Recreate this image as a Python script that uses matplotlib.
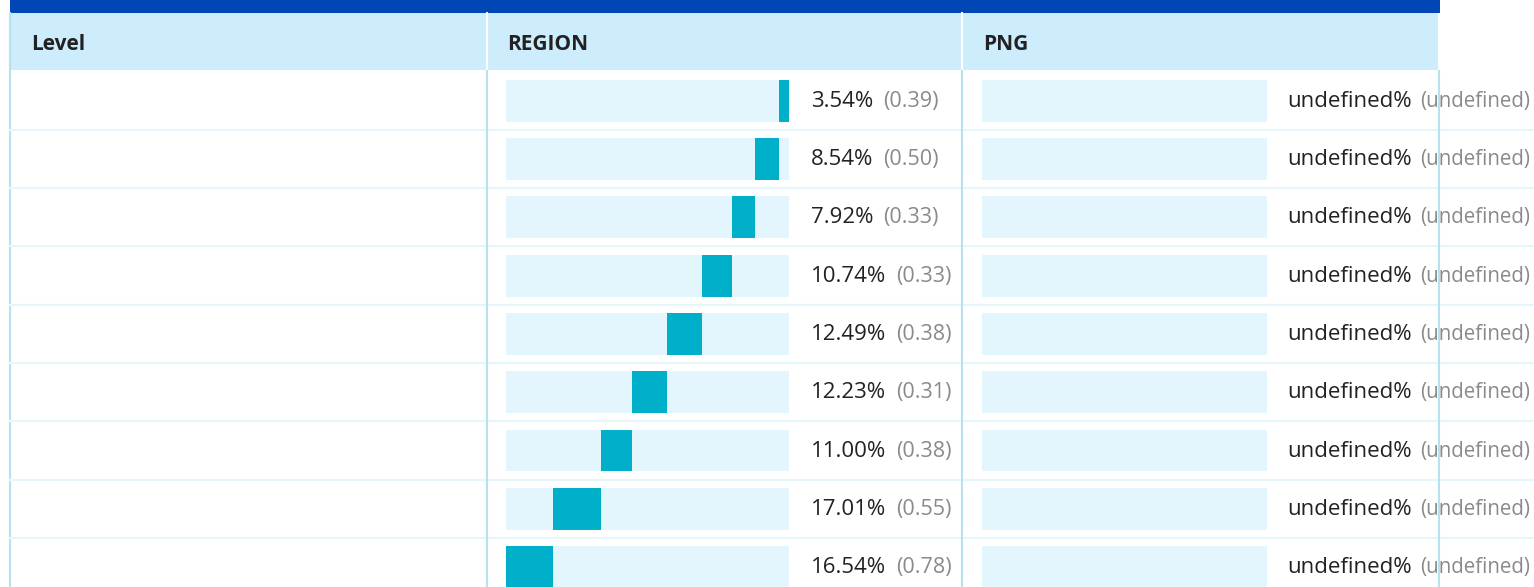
import matplotlib
matplotlib.use("Agg")
import matplotlib.pyplot as plt
import numpy as np

# ── DATA ──────────────────────────────────────────────────────────────────────
columns = ["Level", "REGION", "PNG"]
levels = ["", "", "", "", "", "", "", "", ""]
region_pct = [3.54, 8.54, 7.92, 10.74, 12.49, 12.23, 11.00, 17.01, 16.54]
region_se = [0.39, 0.50, 0.33, 0.33, 0.38, 0.31, 0.38, 0.55, 0.78]
png_pct = ["undefined"] * 9
png_se = ["undefined"] * 9

# ── STYLE ─────────────────────────────────────────────────────────────────────
plt.rcParams["font.family"] = ["Open Sans", "DejaVu Sans"]
TOP_BLUE = "#0047b5"
HEADER_BG = "#cdecfc"
BAR_BG = "#e3f5fd"
BAR_FG = "#00b0ca"
VLINE = "#b5e2ec"
HLINE = "#e6f6fb"
DARK = "#222222"
GREY = "#8a8a8a"

W, H = 1534, 587
HEAD_TOP, HEAD_BOT = 13, 70
ROW_H = 58.3
ROW0 = 100.7          # pixel centre of first row
col_x = [10, 486.5, 962, 1439]

fig = plt.figure(figsize=(W / 100, H / 100), dpi=100)

# header strip (pixel coords)
hax = fig.add_axes([0, 0, 1, 1])
hax.set_xlim(0, W)
hax.set_ylim(H, 0)
hax.axis("off")
hax.fill_between([10, 1440], 0, HEAD_TOP, color=TOP_BLUE, lw=0)
hax.fill_between([10, 1438], HEAD_TOP, HEAD_BOT, color=HEADER_BG, lw=0)
for x in col_x[1:3]:
    hax.plot([x, x], [HEAD_TOP, HEAD_BOT], color="white", lw=1.5)
hax.plot([col_x[0], col_x[0]], [HEAD_TOP, H], color=VLINE, lw=1.5)
for x, name in zip(col_x[:3], columns):
    hax.text(x + 21, 50.5, name, fontsize=15, fontweight="bold", color=DARK,
             va="baseline", ha="left")

# body axes: x in pixels, y in row units
n = len(region_pct)
r_top = (HEAD_BOT - ROW0) / ROW_H
r_bot = (H - ROW0) / ROW_H
body_frac = (H - HEAD_BOT) / H

bax = fig.add_axes([0, 0, 1, body_frac])
bax.set_xlim(0, W)
bax.set_ylim(r_bot, r_top)
bax.axis("off")
for i in range(n - 1):
    bax.plot([col_x[0], W], [i + 0.5, i + 0.5], color=HLINE, lw=1.6, zorder=1)
for x in col_x[1:]:
    bax.plot([x, x], [r_top, r_bot], color=VLINE, lw=1.5, zorder=5)

for i in range(n):
    t = bax.text(811, i + 0.105, f"{region_pct[i]:.2f}%", fontsize=16,
                 color=DARK, va="baseline", ha="left")
    bax.annotate(f"({region_se[i]:.2f})", xy=(1, 0), xycoords=t,
                 xytext=(7, 0), textcoords="offset points", fontsize=15.5,
                 color=GREY, va="bottom", ha="left")
    t2 = bax.text(1287, i + 0.105, f"{png_pct[i]}%", fontsize=16,
                  color=DARK, va="baseline", ha="left")
    bax.annotate(f"({png_se[i]})", xy=(1, 0), xycoords=t2,
                 xytext=(6, 0), textcoords="offset points", fontsize=14.8,
                 color=GREY, va="bottom", ha="left")

rows = np.arange(n)
left = np.concatenate([[0], np.cumsum(region_pct)[:-1]])

# REGION bars: stacked from the right
rax = fig.add_axes([506 / W, 0, (789 - 506) / W, body_frac])
rax.barh(rows, [100] * n, left=0, height=0.72, color=BAR_BG, lw=0)
rax.barh(rows, region_pct, left=left, height=0.72, color=BAR_FG, lw=0)
rax.set_xlim(100, 0)
rax.set_ylim(r_bot, r_top)
rax.axis("off")

# PNG bars: background only (no values)
pax = fig.add_axes([982 / W, 0, (1267 - 982) / W, body_frac])
pax.barh(rows, [100] * n, left=0, height=0.72, color=BAR_BG, lw=0)
pax.set_xlim(100, 0)
pax.set_ylim(r_bot, r_top)
pax.axis("off")

fig.savefig("out.png", dpi=100)
